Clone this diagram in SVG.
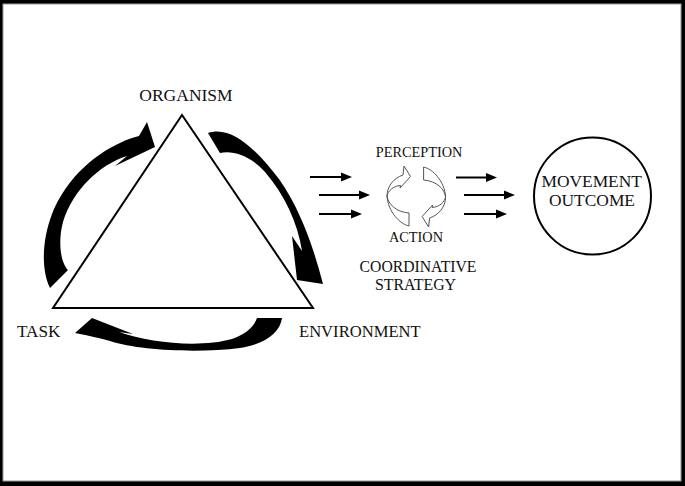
<svg xmlns="http://www.w3.org/2000/svg" width="685" height="486" viewBox="0 0 685 486">
<style>
.t{font-family:"Liberation Serif","Times New Roman",serif;fill:#111;}
.ln{stroke:#000;stroke-width:2;fill:none;}
.hd{fill:#000;}
.big{fill:#000;}
.cyc{fill:#fff;stroke:#555;stroke-width:1;}
</style>
<rect x="0" y="0" width="685" height="486" fill="#000"/>
<rect x="3" y="4" width="678" height="477" fill="#fff" stroke="#999" stroke-width="1"/>

<g id="organism-node">
<text class="t" x="186" y="101" font-size="17.5" text-anchor="middle">ORGANISM</text>
</g>
<g id="triangle">
<polygon points="182,115 53,308 313,308" fill="#fff" stroke="#000" stroke-width="2" stroke-linejoin="miter"/>
</g>
<g id="task-node">
<text class="t" x="17" y="337" font-size="17.2">TASK</text>
</g>
<g id="environment-node">
<text class="t" x="299" y="337" font-size="16.6">ENVIRONMENT</text>
</g>
<g id="coordinative-node">
<text class="t" x="419" y="157" font-size="14.3" text-anchor="middle">PERCEPTION</text>
<text class="t" x="416" y="242" font-size="14.3" text-anchor="middle">ACTION</text>
<text class="t" x="418" y="271.5" font-size="15.7" text-anchor="middle">COORDINATIVE</text>
<text class="t" x="415.5" y="289.5" font-size="15.9" text-anchor="middle">STRATEGY</text>
<g id="cycle">
<path class="cyc" d="M409,213 C396,212 388,204 387,196 C387,186 394,178 403,175 L404,166 L410.5,176.5 L400,188 L400.5,185.5 C393,186 388,191 387,196 C388,212 400,224 409,226 Z"/>
<path class="cyc" d="M409,213 C396,212 388,204 387,196 C387,186 394,178 403,175 L404,166 L410.5,176.5 L400,188 L400.5,185.5 C393,186 388,191 387,196 C388,212 400,224 409,226 Z" transform="rotate(180 416.3 196.5)"/>
</g>
</g>
<g id="outcome-node">
<circle cx="592.5" cy="196" r="58.5" fill="#fff" stroke="#000" stroke-width="2"/>
<text class="t" x="591.7" y="187" font-size="17.4" text-anchor="middle">MOVEMENT</text>
<text class="t" x="592" y="206" font-size="17.4" text-anchor="middle">OUTCOME</text>
</g>

<g id="connectors">
<path class="big" d="M50,288 C41,270 42,240 52,214 C61,191 79,168 102,153 C114,145 127,139 139,136 L147,122 L155,147 L115,166 L127,156 C99,165 73,190 63,222 C58,240 60,262 68,270 Z"/>
<path class="big" d="M208,133 C231,125 256,149 279,179 C299,207 313,245 323,284 L297,280 L292,236 L302,251 C298,224 285,195 265,172 C250,155 232,150 220,153 Z"/>
<path class="big" d="M75,333 L92,318 L133,334 L119,332 C150,343 200,348 232,339 C246,334 254,327 257,318 L282,318 C280,333 265,344 240,348 C200,353 140,351 110,341 C95,337 85,335 75,333 Z"/>

<line class="ln" x1="310" y1="177" x2="343" y2="177"/>
<polygon class="hd" points="352,177 341,172.5 341,181.5"/>
<line class="ln" x1="319" y1="195" x2="361" y2="195"/>
<polygon class="hd" points="370,195 359,190.5 359,199.5"/>
<line class="ln" x1="319" y1="214" x2="353" y2="214"/>
<polygon class="hd" points="362,214 351,209.5 351,218.5"/>

<line class="ln" x1="456" y1="177.5" x2="488" y2="177.5"/>
<polygon class="hd" points="497,177.5 486,173 486,182"/>
<line class="ln" x1="464" y1="195" x2="506" y2="195"/>
<polygon class="hd" points="515,195 504,190.5 504,199.5"/>
<line class="ln" x1="464" y1="214" x2="498" y2="214"/>
<polygon class="hd" points="507,214 496,209.5 496,218.5"/>
</g>
</svg>
